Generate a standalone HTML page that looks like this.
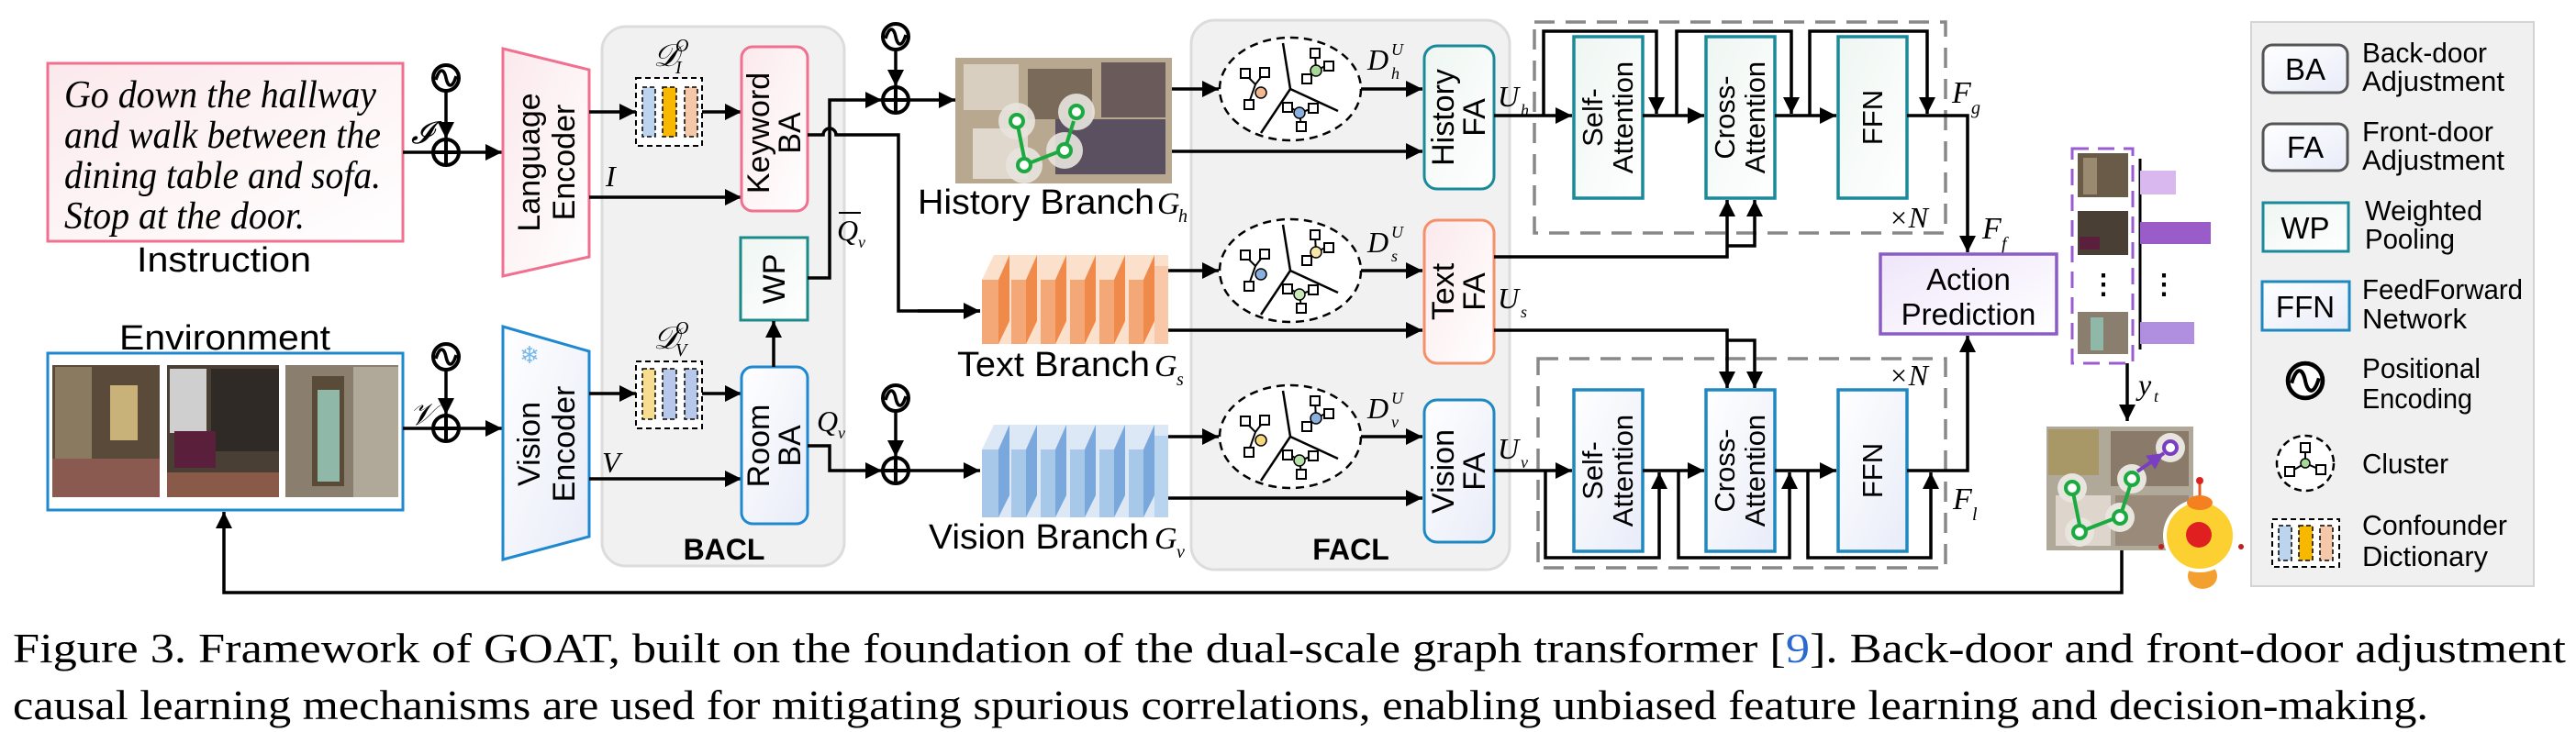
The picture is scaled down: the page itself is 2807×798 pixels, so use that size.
<!DOCTYPE html>
<html><head><meta charset="utf-8"><style>
html,body{margin:0;padding:0;background:#fff}
svg{display:block}
text{font-family:"Liberation Sans",sans-serif}
.s{font-family:"Liberation Serif",serif}
</style></head><body>
<svg width="2807" height="798" viewBox="0 0 2807 798" xmlns="http://www.w3.org/2000/svg">
<defs>
<marker id="a" markerUnits="userSpaceOnUse" markerWidth="20" markerHeight="18" refX="18" refY="9" orient="auto"><path d="M0,0 L18,9 L0,18 Z" fill="#000"/></marker>
<marker id="ap" markerUnits="userSpaceOnUse" markerWidth="20" markerHeight="18" refX="18" refY="9" orient="auto"><path d="M0,0 L18,9 L0,18 Z" fill="#7a3fc0"/></marker>
<linearGradient id="gp" x1="0" y1="0" x2="1" y2="1"><stop offset="0" stop-color="#fbe9ec"/><stop offset="1" stop-color="#fff"/></linearGradient>
<linearGradient id="gb" x1="0" y1="0" x2="1" y2="1"><stop offset="0" stop-color="#fff"/><stop offset="1" stop-color="#e8ecf8"/></linearGradient>
<linearGradient id="gt" x1="0" y1="0" x2="1" y2="1"><stop offset="0" stop-color="#eef6f2"/><stop offset="1" stop-color="#fff"/></linearGradient>
<linearGradient id="gv" x1="0" y1="0" x2="1" y2="1"><stop offset="0" stop-color="#efe6fa"/><stop offset="1" stop-color="#fff"/></linearGradient>
<g id="pe"><circle cx="0" cy="0" r="14" fill="#fff" stroke="#000" stroke-width="4"/><path d="M-11,2 C-7,-12 -2,-10 0,0 C2,10 7,12 11,-2" fill="none" stroke="#000" stroke-width="3.5"/></g>
<g id="op"><circle cx="0" cy="0" r="14" fill="#fff" stroke="#000" stroke-width="4"/><path d="M-14,0 H14 M0,-14 V14" stroke="#000" stroke-width="4"/></g>
<g id="cl">
<ellipse cx="0" cy="0" rx="77" ry="56" fill="#fff" stroke="#000" stroke-width="2.5" stroke-dasharray="9 6"/>
<path d="M0,0 L-8,-50 M0,0 L52,24 M0,0 L-32,48" stroke="#000" stroke-width="2.5"/>
<path d="M-48,-15 L-38,-5 L-28,-18 M-38,-5 L-45,15" stroke="#000" stroke-width="2" fill="none"/>
<rect x="-54" y="-22" width="10" height="10" fill="#fff" stroke="#000" stroke-width="2"/>
<rect x="-33" y="-23" width="10" height="10" fill="#fff" stroke="#000" stroke-width="2"/>
<rect x="-50" y="12" width="10" height="10" fill="#fff" stroke="#000" stroke-width="2"/>
<path d="M27,-38 L28,-20 L40,-26 M28,-20 L18,-12" stroke="#000" stroke-width="2" fill="none"/>
<rect x="22" y="-44" width="10" height="10" fill="#fff" stroke="#000" stroke-width="2"/>
<rect x="37" y="-30" width="10" height="10" fill="#fff" stroke="#000" stroke-width="2"/>
<rect x="13" y="-16" width="10" height="10" fill="#fff" stroke="#000" stroke-width="2"/>
<path d="M0,20 L10,26 L22,22 M10,26 L12,40" stroke="#000" stroke-width="2" fill="none"/>
<rect x="-8" y="15" width="10" height="10" fill="#fff" stroke="#000" stroke-width="2"/>
<rect x="20" y="16" width="10" height="10" fill="#fff" stroke="#000" stroke-width="2"/>
<rect x="7" y="36" width="10" height="10" fill="#fff" stroke="#000" stroke-width="2"/>
</g>
</defs>

<!-- Instruction -->
<rect x="52" y="69" width="387" height="194" fill="url(#gp)" stroke="#f07090" stroke-width="3"/>
<g class="s" font-style="italic" font-size="42" fill="#000">
<text class="s" x="70" y="117" textLength="340" lengthAdjust="spacingAndGlyphs">Go down the hallway</text>
<text class="s" x="70" y="161" textLength="345" lengthAdjust="spacingAndGlyphs">and walk between the</text>
<text class="s" x="70" y="205" textLength="345" lengthAdjust="spacingAndGlyphs">dining table and sofa.</text>
<text class="s" x="70" y="249" textLength="262" lengthAdjust="spacingAndGlyphs">Stop at the door.</text>
</g>
<text x="244" y="296" font-size="38" text-anchor="middle" textLength="190" lengthAdjust="spacingAndGlyphs">Instruction</text>

<!-- Environment -->
<text x="245" y="381" font-size="38" text-anchor="middle" textLength="230" lengthAdjust="spacingAndGlyphs">Environment</text>
<rect x="52" y="385" width="387" height="171" fill="#fff" stroke="#1e88d0" stroke-width="3"/>
<rect x="57" y="398" width="117" height="144" fill="#5a4a3a"/>
<rect x="60" y="400" width="40" height="130" fill="#8a7a60"/><rect x="120" y="420" width="30" height="60" fill="#c9b27a"/><rect x="57" y="500" width="117" height="42" fill="#8a5a50"/>
<rect x="182" y="398" width="122" height="144" fill="#4a3f35"/>
<rect x="185" y="402" width="40" height="70" fill="#cfcfcf"/><rect x="230" y="402" width="74" height="90" fill="#2f2a26"/><rect x="190" y="470" width="45" height="40" fill="#5a1f3a"/><rect x="182" y="515" width="122" height="27" fill="#8a5a48"/>
<rect x="311" y="398" width="123" height="144" fill="#8a7f6e"/>
<rect x="340" y="410" width="35" height="120" fill="#5a4a38"/><rect x="346" y="425" width="24" height="100" fill="#8fb8a8"/><rect x="385" y="400" width="49" height="142" fill="#b0a898"/>

<!-- PE + plus, language -->
<use href="#pe" x="486" y="85"/>
<path d="M486,99 V151" stroke="#000" stroke-width="3.5" marker-end="url(#a)"/>
<use href="#op" x="486" y="166"/>
<path d="M439,166 H547" stroke="#000" stroke-width="3.5" marker-end="url(#a)"/>
<text class="s" x="448" y="156" font-size="34" font-style="italic">𝓘</text>

<use href="#pe" x="486" y="389"/>
<path d="M486,403 V452" stroke="#000" stroke-width="3.5" marker-end="url(#a)"/>
<use href="#op" x="486" y="467"/>
<path d="M439,467 H547" stroke="#000" stroke-width="3.5" marker-end="url(#a)"/>
<text class="s" x="446" y="463" font-size="34" font-style="italic">𝒱</text>

<!-- BACL panel -->
<rect x="656" y="29" width="264" height="588" rx="26" fill="#f1f1f1" stroke="#dcdcdc" stroke-width="3"/>
<text x="789" y="610" font-size="32" font-weight="bold" text-anchor="middle">BACL</text>

<!-- Encoders -->
<polygon points="548,53 642,76 642,280 548,301" fill="url(#gp)" stroke="#f07090" stroke-width="3"/>
<g transform="translate(596,177) rotate(-90)"><text x="0" y="-8" font-size="34" text-anchor="middle">Language</text><text x="0" y="30" font-size="34" text-anchor="middle">Encoder</text></g>
<polygon points="548,356 642,383 642,585 548,610" fill="url(#gb)" stroke="#1e88d0" stroke-width="3"/>
<text x="577" y="396" font-size="26" fill="#7ab8e8" text-anchor="middle">❄</text>
<g transform="translate(596,484) rotate(-90)"><text x="0" y="-8" font-size="34" text-anchor="middle">Vision</text><text x="0" y="30" font-size="34" text-anchor="middle">Encoder</text></g>

<!-- Dictionaries -->
<rect x="693" y="85" width="72" height="74" fill="#fff" stroke="#000" stroke-width="2" stroke-dasharray="6 4"/>
<rect x="700" y="95" width="14" height="54" fill="#bcd4ee" stroke="#000" stroke-width="1.5" stroke-dasharray="5 3"/>
<rect x="722" y="95" width="15" height="54" fill="#f8b800" stroke="#000" stroke-width="1.5" stroke-dasharray="5 3"/>
<rect x="746" y="95" width="14" height="54" fill="#f4c8a8" stroke="#000" stroke-width="1.5" stroke-dasharray="5 3"/>
<text class="s" x="712" y="72" font-size="34" font-style="italic">𝒟</text><text class="s" x="736" y="56" font-size="20" font-style="italic">O</text><text class="s" x="736" y="80" font-size="20" font-style="italic">I</text>
<rect x="693" y="394" width="72" height="73" fill="#fff" stroke="#000" stroke-width="2" stroke-dasharray="6 4"/>
<rect x="700" y="402" width="14" height="55" fill="#f8dc90" stroke="#000" stroke-width="1.5" stroke-dasharray="5 3"/>
<rect x="722" y="402" width="15" height="55" fill="#b8c8ea" stroke="#000" stroke-width="1.5" stroke-dasharray="5 3"/>
<rect x="746" y="402" width="14" height="55" fill="#b8c8ea" stroke="#000" stroke-width="1.5" stroke-dasharray="5 3"/>
<text class="s" x="712" y="380" font-size="34" font-style="italic">𝒟</text><text class="s" x="736" y="364" font-size="20" font-style="italic">O</text><text class="s" x="736" y="388" font-size="20" font-style="italic">V</text>

<path d="M642,122 H693" stroke="#000" stroke-width="3.5" marker-end="url(#a)"/>
<path d="M765,122 H808" stroke="#000" stroke-width="3.5" marker-end="url(#a)"/>
<path d="M642,215 H808" stroke="#000" stroke-width="3.5" marker-end="url(#a)"/>
<text class="s" x="660" y="203" font-size="32" font-style="italic">I</text>
<path d="M642,429 H693" stroke="#000" stroke-width="3.5" marker-end="url(#a)"/>
<path d="M765,429 H808" stroke="#000" stroke-width="3.5" marker-end="url(#a)"/>
<path d="M642,522 H808" stroke="#000" stroke-width="3.5" marker-end="url(#a)"/>
<text class="s" x="656" y="515" font-size="32" font-style="italic">V</text>

<!-- BA boxes -->
<rect x="808" y="51" width="72" height="179" rx="12" fill="url(#gp)" stroke="#f07090" stroke-width="3"/>
<g transform="translate(844,145) rotate(-90)"><text x="0" y="-6" font-size="34" text-anchor="middle">Keyword</text><text x="0" y="28" font-size="34" text-anchor="middle">BA</text></g>
<rect x="807" y="259" width="73" height="90" fill="url(#gt)" stroke="#1a8a8a" stroke-width="3"/>
<g transform="translate(843,304) rotate(-90)"><text x="0" y="12" font-size="34" text-anchor="middle">WP</text></g>
<rect x="808" y="400" width="72" height="171" rx="12" fill="url(#gb)" stroke="#1e88d0" stroke-width="3"/>
<g transform="translate(844,486) rotate(-90)"><text x="0" y="-6" font-size="34" text-anchor="middle">Room</text><text x="0" y="28" font-size="34" text-anchor="middle">BA</text></g>
<path d="M843,400 V350" stroke="#000" stroke-width="3.5" marker-end="url(#a)"/>

<!-- BA outputs -->
<path d="M880,147 H897 A7,7 0 0 1 911,147 H979 V339 H1068" fill="none" stroke="#000" stroke-width="3.5" marker-end="url(#a)"/>
<path d="M880,303 H904 V109 H961" fill="none" stroke="#000" stroke-width="3.5" marker-end="url(#a)"/>
<line x1="914" y1="232" x2="938" y2="232" stroke="#000" stroke-width="2"/>
<text class="s" x="912" y="262" font-size="32" font-style="italic">Q</text><text class="s" x="935" y="270" font-size="18" font-style="italic">v</text>
<use href="#pe" x="976" y="40"/>
<path d="M976,54 V94" stroke="#000" stroke-width="3.5" marker-end="url(#a)"/>
<use href="#op" x="976" y="109"/>
<path d="M990,109 H1041" stroke="#000" stroke-width="3.5" marker-end="url(#a)"/>
<path d="M880,486 H904 V513 H961" fill="none" stroke="#000" stroke-width="3.5" marker-end="url(#a)"/>
<text class="s" x="890" y="470" font-size="32" font-style="italic">Q</text><text class="s" x="913" y="478" font-size="18" font-style="italic">v</text>
<use href="#pe" x="976" y="434"/>
<path d="M976,448 V498" stroke="#000" stroke-width="3.5" marker-end="url(#a)"/>
<use href="#op" x="976" y="513"/>
<path d="M990,513 H1068" stroke="#000" stroke-width="3.5" marker-end="url(#a)"/>

<!-- FACL panel -->
<rect x="1298" y="22" width="347" height="599" rx="26" fill="#f1f1f1" stroke="#dcdcdc" stroke-width="3"/>
<text x="1472" y="610" font-size="32" font-weight="bold" text-anchor="middle">FACL</text>

<!-- History image -->
<rect x="1041" y="63" width="236" height="137" fill="#b8a890"/>
<rect x="1050" y="70" width="60" height="50" fill="#d8cfc0"/><rect x="1120" y="75" width="70" height="55" fill="#7a6a5a"/><rect x="1200" y="68" width="70" height="60" fill="#6a5a5a"/><rect x="1150" y="130" width="120" height="60" fill="#5a5060"/><rect x="1060" y="140" width="60" height="55" fill="#e0d8cc"/>
<circle cx="1108" cy="132" r="20" fill="#e8e4de" opacity=".9"/><circle cx="1116" cy="180" r="20" fill="#e8e4de" opacity=".9"/><circle cx="1160" cy="164" r="20" fill="#e8e4de" opacity=".9"/><circle cx="1173" cy="122" r="20" fill="#e8e4de" opacity=".9"/>
<g stroke="#1aaa40" stroke-width="4" fill="none"><path d="M1108,132 L1116,172"/><path d="M1116,180 L1152,166"/><path d="M1160,164 L1170,132"/>
<circle cx="1108" cy="132" r="7" fill="#fff"/><circle cx="1116" cy="180" r="7" fill="#fff"/><circle cx="1160" cy="164" r="7" fill="#fff"/><circle cx="1173" cy="122" r="7" fill="#fff"/></g>
<text x="1000" y="233" font-size="38" textLength="258" lengthAdjust="spacingAndGlyphs">History Branch</text>
<text class="s" x="1261" y="233" font-size="34" font-style="italic">G</text><text class="s" x="1284" y="242" font-size="20" font-style="italic">h</text>

<!-- Text branch -->
<g>
<polygon points="1070,305 1083,278 1273,278 1273,375 1070,375" fill="#fbe0cc"/>
<g fill="#f4a878"><rect x="1070" y="305" width="18" height="70"/><rect x="1102" y="305" width="16" height="70"/><rect x="1134" y="305" width="16" height="70"/><rect x="1166" y="305" width="16" height="70"/><rect x="1198" y="305" width="16" height="70"/><rect x="1230" y="305" width="16" height="70"/></g>
<g fill="#f08a4a"><polygon points="1088,305 1100,278 1100,350 1088,375"/><polygon points="1118,305 1130,278 1130,350 1118,375"/><polygon points="1150,305 1162,278 1162,350 1150,375"/><polygon points="1182,305 1194,278 1194,350 1182,375"/><polygon points="1214,305 1226,278 1226,350 1214,375"/><polygon points="1246,305 1258,278 1258,350 1246,375"/></g>
<rect x="1258" y="290" width="15" height="85" fill="#f8c8a8"/>
</g>
<path d="M1000,339 H1068" stroke="#000" stroke-width="3.5"/>
<text x="1043" y="410" font-size="38" textLength="210" lengthAdjust="spacingAndGlyphs">Text Branch</text>
<text class="s" x="1258" y="410" font-size="34" font-style="italic">G</text><text class="s" x="1282" y="420" font-size="20" font-style="italic">s</text>

<!-- Vision branch -->
<g>
<polygon points="1070,490 1083,463 1273,463 1273,564 1070,564" fill="#dce8f6"/>
<g fill="#a8c8ea"><rect x="1070" y="490" width="18" height="74"/><rect x="1102" y="490" width="16" height="74"/><rect x="1134" y="490" width="16" height="74"/><rect x="1166" y="490" width="16" height="74"/><rect x="1198" y="490" width="16" height="74"/><rect x="1230" y="490" width="16" height="74"/></g>
<g fill="#7aa8dc"><polygon points="1088,490 1100,463 1100,540 1088,564"/><polygon points="1118,490 1130,463 1130,540 1118,564"/><polygon points="1150,490 1162,463 1162,540 1150,564"/><polygon points="1182,490 1194,463 1194,540 1182,564"/><polygon points="1214,490 1226,463 1226,540 1214,564"/><polygon points="1246,490 1258,463 1258,540 1246,564"/></g>
<rect x="1258" y="475" width="15" height="89" fill="#b8d4ee"/>
</g>
<text x="1012" y="598" font-size="38" textLength="240" lengthAdjust="spacingAndGlyphs">Vision Branch</text>
<text class="s" x="1258" y="598" font-size="34" font-style="italic">G</text><text class="s" x="1282" y="608" font-size="20" font-style="italic">v</text>

<!-- Clusters -->
<use href="#cl" x="1406" y="97"/>
<circle cx="1374" cy="101" r="6" fill="#f4b890" stroke="#000" stroke-width="1.5"/><circle cx="1434" cy="77" r="6" fill="#a8d898" stroke="#000" stroke-width="1.5"/><circle cx="1416" cy="123" r="6" fill="#8ab0e0" stroke="#000" stroke-width="1.5"/>
<use href="#cl" x="1406" y="295"/>
<circle cx="1374" cy="299" r="6" fill="#8ab0e0" stroke="#000" stroke-width="1.5"/><circle cx="1434" cy="275" r="6" fill="#f8e8a8" stroke="#000" stroke-width="1.5"/><circle cx="1416" cy="321" r="6" fill="#c8e8b8" stroke="#000" stroke-width="1.5"/>
<use href="#cl" x="1406" y="476"/>
<circle cx="1374" cy="480" r="6" fill="#f8d878" stroke="#000" stroke-width="1.5"/><circle cx="1434" cy="456" r="6" fill="#8ab0e0" stroke="#000" stroke-width="1.5"/><circle cx="1416" cy="502" r="6" fill="#b8e0a8" stroke="#000" stroke-width="1.5"/>

<g class="s" font-style="italic">
<text class="s" x="1490" y="76" font-size="32">D</text><text class="s" x="1516" y="60" font-size="18">U</text><text class="s" x="1516" y="86" font-size="18">h</text>
<text class="s" x="1490" y="275" font-size="32">D</text><text class="s" x="1516" y="259" font-size="18">U</text><text class="s" x="1516" y="285" font-size="18">s</text>
<text class="s" x="1490" y="456" font-size="32">D</text><text class="s" x="1516" y="440" font-size="18">U</text><text class="s" x="1516" y="466" font-size="18">v</text>
<text class="s" x="1632" y="116" font-size="32">U</text><text class="s" x="1657" y="126" font-size="18">h</text>
<text class="s" x="1632" y="336" font-size="32">U</text><text class="s" x="1657" y="346" font-size="18">s</text>
<text class="s" x="1632" y="500" font-size="32">U</text><text class="s" x="1657" y="510" font-size="18">v</text>
</g>

<g stroke="#000" stroke-width="3.5" fill="none">
<path d="M1277,97 H1328" marker-end="url(#a)"/><path d="M1483,97 H1550" marker-end="url(#a)"/><path d="M1277,165 H1550" marker-end="url(#a)"/>
<path d="M1273,295 H1328" marker-end="url(#a)"/><path d="M1483,295 H1550" marker-end="url(#a)"/><path d="M1273,360 H1550" marker-end="url(#a)"/>
<path d="M1273,476 H1328" marker-end="url(#a)"/><path d="M1483,476 H1550" marker-end="url(#a)"/><path d="M1273,543 H1550" marker-end="url(#a)"/>
</g>

<!-- FA boxes -->
<rect x="1552" y="50" width="76" height="156" rx="14" fill="url(#gt)" stroke="#1a8a9a" stroke-width="3"/>
<g transform="translate(1590,128) rotate(-90)"><text x="0" y="-6" font-size="34" text-anchor="middle">History</text><text x="0" y="28" font-size="34" text-anchor="middle">FA</text></g>
<rect x="1552" y="240" width="76" height="156" rx="14" fill="url(#gp)" stroke="#f4906a" stroke-width="3"/>
<g transform="translate(1590,318) rotate(-90)"><text x="0" y="-6" font-size="34" text-anchor="middle">Text</text><text x="0" y="28" font-size="34" text-anchor="middle">FA</text></g>
<rect x="1552" y="436" width="76" height="155" rx="14" fill="url(#gb)" stroke="#1e88c0" stroke-width="3"/>
<g transform="translate(1590,514) rotate(-90)"><text x="0" y="-6" font-size="34" text-anchor="middle">Vision</text><text x="0" y="28" font-size="34" text-anchor="middle">FA</text></g>

<!-- Transformer blocks -->
<rect x="1672" y="24" width="448" height="230" fill="none" stroke="#888" stroke-width="3.5" stroke-dasharray="22 12"/>
<rect x="1676" y="391" width="444" height="228" fill="none" stroke="#888" stroke-width="3.5" stroke-dasharray="22 12"/>
<g stroke-width="3.5">
<rect x="1715" y="40" width="75" height="176" fill="url(#gt)" stroke="#1a8a9a"/>
<rect x="1859" y="40" width="75" height="176" fill="url(#gt)" stroke="#1a8a9a"/>
<rect x="2003" y="40" width="75" height="176" fill="url(#gt)" stroke="#1a8a9a"/>
<rect x="1715" y="425" width="75" height="176" fill="url(#gb)" stroke="#1e88c0"/>
<rect x="1859" y="425" width="75" height="176" fill="url(#gb)" stroke="#1e88c0"/>
<rect x="2003" y="425" width="75" height="176" fill="url(#gb)" stroke="#1e88c0"/>
</g>
<g font-size="31" text-anchor="middle">
<g transform="translate(1752,128) rotate(-90)"><text x="0" y="-6">Self-</text><text x="0" y="27">Attention</text></g>
<g transform="translate(1896,128) rotate(-90)"><text x="0" y="-6">Cross-</text><text x="0" y="27">Attention</text></g>
<g transform="translate(2040,128) rotate(-90)"><text x="0" y="11">FFN</text></g>
<g transform="translate(1752,513) rotate(-90)"><text x="0" y="-6">Self-</text><text x="0" y="27">Attention</text></g>
<g transform="translate(1896,513) rotate(-90)"><text x="0" y="-6">Cross-</text><text x="0" y="27">Attention</text></g>
<g transform="translate(2040,513) rotate(-90)"><text x="0" y="11">FFN</text></g>
</g>
<g stroke="#000" stroke-width="3.5" fill="none">
<path d="M1628,126 H1713" marker-end="url(#a)"/>
<path d="M1682,126 V34 H1805 V124" marker-end="url(#a)"/>
<path d="M1790,126 H1857" marker-end="url(#a)"/>
<path d="M1827,126 V34 H1952 V124" marker-end="url(#a)"/>
<path d="M1934,126 H2001" marker-end="url(#a)"/>
<path d="M1972,126 V34 H2100 V124" marker-end="url(#a)"/>
<path d="M2078,126 H2144 V275" marker-end="url(#a)"/>
<path d="M1628,280 H1882 V218" marker-end="url(#a)"/>
<path d="M1882,268 H1912 V218" marker-end="url(#a)"/>
<path d="M1628,360 H1882 V423" marker-end="url(#a)"/>
<path d="M1882,371 H1912 V423" marker-end="url(#a)"/>
<path d="M1628,513 H1713" marker-end="url(#a)"/>
<path d="M1684,513 V608 H1808 V515" marker-end="url(#a)"/>
<path d="M1790,513 H1857" marker-end="url(#a)"/>
<path d="M1829,513 V608 H1950 V515" marker-end="url(#a)"/>
<path d="M1934,513 H2001" marker-end="url(#a)"/>
<path d="M1970,513 V608 H2104 V515" marker-end="url(#a)"/>
<path d="M2078,513 H2144 V366" marker-end="url(#a)"/>
<path d="M2318,396 V459" marker-end="url(#a)"/>
<path d="M2312,600 V646 H244 V558" marker-end="url(#a)"/>
</g>
<g class="s" font-style="italic">
<text class="s" x="2127" y="112" font-size="34">F</text><text class="s" x="2148" y="124" font-size="20">g</text>
<text class="s" x="2160" y="260" font-size="34">F</text><text class="s" x="2181" y="272" font-size="20">f</text>
<text class="s" x="2128" y="555" font-size="34">F</text><text class="s" x="2149" y="567" font-size="20">l</text>
<text class="s" x="2058" y="248" font-size="32">×N</text>
<text class="s" x="2058" y="420" font-size="32">×N</text>
<text class="s" x="2330" y="430" font-size="32">y</text><text class="s" x="2347" y="438" font-size="18">t</text>
</g>

<!-- Action prediction -->
<rect x="2049" y="277" width="192" height="87" fill="url(#gv)" stroke="#8a5cc8" stroke-width="3.5"/>
<text x="2145" y="316" font-size="33" text-anchor="middle">Action</text>
<text x="2145" y="354" font-size="33" text-anchor="middle">Prediction</text>

<!-- candidates -->
<rect x="2258" y="162" width="66" height="234" fill="#fff" stroke="#9a5cd0" stroke-width="3" stroke-dasharray="18 10"/>
<rect x="2264" y="167" width="55" height="48" fill="#6a5a48"/><rect x="2270" y="172" width="15" height="40" fill="#9a8a70"/>
<rect x="2264" y="230" width="55" height="48" fill="#4a3f35"/><rect x="2266" y="258" width="22" height="14" fill="#5a1f3a"/>
<rect x="2264" y="340" width="55" height="46" fill="#8a7f6e"/><rect x="2278" y="346" width="14" height="36" fill="#8fb8a8"/>
<text x="2292" y="320" font-size="30" font-weight="bold" text-anchor="middle">⋮</text>
<line x1="2332" y1="173" x2="2332" y2="381" stroke="#000" stroke-width="3"/>
<rect x="2332" y="186" width="39" height="26" fill="#d8b8ee"/>
<rect x="2332" y="242" width="77" height="24" fill="#9a5cc8"/>
<rect x="2332" y="351" width="59" height="24" fill="#b08ee0"/>
<text x="2358" y="320" font-size="30" font-weight="bold" text-anchor="middle">⋮</text>

<!-- map + robot -->
<rect x="2230" y="465" width="160" height="135" fill="#b0a898"/>
<rect x="2232" y="468" width="55" height="50" fill="#a89868"/><rect x="2300" y="470" width="85" height="60" fill="#8a7a6a"/><rect x="2240" y="540" width="60" height="55" fill="#ded6cc"/><rect x="2305" y="540" width="80" height="55" fill="#9a8a7a"/>
<circle cx="2258" cy="532" r="16" fill="#e8e4de"/><circle cx="2266" cy="580" r="16" fill="#e8e4de"/><circle cx="2310" cy="564" r="16" fill="#e8e4de"/><circle cx="2323" cy="522" r="16" fill="#e8e4de"/><circle cx="2365" cy="488" r="16" fill="#e8e4de"/>
<g stroke="#1aaa40" stroke-width="4" fill="none"><path d="M2258,532 L2266,572"/><path d="M2266,580 L2302,566"/><path d="M2310,564 L2321,530"/>
<circle cx="2258" cy="532" r="7" fill="#fff"/><circle cx="2266" cy="580" r="7" fill="#fff"/><circle cx="2310" cy="564" r="7" fill="#fff"/><circle cx="2323" cy="522" r="7" fill="#fff"/></g>
<path d="M2329,514 L2358,494" stroke="#7a3fc0" stroke-width="4" marker-end="url(#ap)"/>
<circle cx="2365" cy="488" r="7" fill="#fff" stroke="#7a3fc0" stroke-width="4"/>
<ellipse cx="2400" cy="628" rx="16" ry="14" fill="#f4a030"/>
<circle cx="2397" cy="584" r="38" fill="#fcd030" stroke="#fff" stroke-width="4"/>
<circle cx="2396" cy="583" r="14" fill="#e02020"/>
<ellipse cx="2397" cy="548" rx="14" ry="8" fill="#f48020"/>
<line x1="2397" y1="540" x2="2397" y2="526" stroke="#e06020" stroke-width="3"/><circle cx="2397" cy="524" r="4" fill="#e02020"/>
<circle cx="2355" cy="596" r="3" fill="#c02020"/><circle cx="2442" cy="596" r="3" fill="#c02020"/>

<!-- Legend -->
<rect x="2453" y="24" width="308" height="615" fill="#f0f0f0" stroke="#d4d4d4" stroke-width="2"/>
<g stroke-width="3">
<rect x="2466" y="49" width="92" height="52" rx="10" fill="url(#gb)" stroke="#555"/>
<rect x="2466" y="135" width="92" height="51" rx="10" fill="url(#gb)" stroke="#555"/>
<rect x="2466" y="221" width="93" height="53" fill="url(#gt)" stroke="#1a8a9a"/>
<rect x="2465" y="307" width="95" height="53" fill="url(#gb)" stroke="#1e88c0"/>
</g>
<g font-size="33" text-anchor="middle">
<text x="2512" y="87">BA</text><text x="2512" y="172">FA</text><text x="2512" y="260">WP</text><text x="2512" y="346">FFN</text>
</g>
<g font-size="31">
<text x="2574" y="68" textLength="136" lengthAdjust="spacingAndGlyphs">Back-door</text>
<text x="2574" y="99" textLength="155" lengthAdjust="spacingAndGlyphs">Adjustment</text>
<text x="2574" y="154" textLength="143" lengthAdjust="spacingAndGlyphs">Front-door</text>
<text x="2574" y="185" textLength="155" lengthAdjust="spacingAndGlyphs">Adjustment</text>
<text x="2577" y="240" textLength="128" lengthAdjust="spacingAndGlyphs">Weighted</text>
<text x="2577" y="271" textLength="98" lengthAdjust="spacingAndGlyphs">Pooling</text>
<text x="2574" y="326" textLength="175" lengthAdjust="spacingAndGlyphs">FeedForward</text>
<text x="2574" y="358" textLength="114" lengthAdjust="spacingAndGlyphs">Network</text>
<text x="2574" y="412" textLength="129" lengthAdjust="spacingAndGlyphs">Positional</text>
<text x="2574" y="445" textLength="120" lengthAdjust="spacingAndGlyphs">Encoding</text>
<text x="2574" y="516" textLength="94" lengthAdjust="spacingAndGlyphs">Cluster</text>
<text x="2574" y="583" textLength="158" lengthAdjust="spacingAndGlyphs">Confounder</text>
<text x="2574" y="617" textLength="137" lengthAdjust="spacingAndGlyphs">Dictionary</text>
</g>
<g transform="translate(2512,415) scale(1.35)"><circle r="14" fill="#fff" stroke="#000" stroke-width="3.5"/><path d="M-11,2 C-7,-12 -2,-10 0,0 C2,10 7,12 11,-2" fill="none" stroke="#000" stroke-width="3"/></g>
<g transform="translate(2512,505)">
<ellipse rx="31" ry="30" fill="#fff" stroke="#000" stroke-width="2.5" stroke-dasharray="8 5"/>
<path d="M0,-12 V0 L-14,8 M0,0 L14,6" stroke="#000" stroke-width="2" fill="none"/>
<rect x="-5" y="-22" width="10" height="10" fill="#fff" stroke="#000" stroke-width="2"/>
<rect x="-22" y="4" width="10" height="10" fill="#fff" stroke="#000" stroke-width="2"/>
<rect x="12" y="2" width="10" height="10" fill="#fff" stroke="#000" stroke-width="2"/>
<circle r="5" fill="#a8d898" stroke="#000" stroke-width="1.5"/>
</g>
<rect x="2476" y="566" width="73" height="52" fill="#fff" stroke="#000" stroke-width="2" stroke-dasharray="6 4"/>
<rect x="2483" y="573" width="14" height="38" fill="#bcd4ee" stroke="#000" stroke-width="1.5" stroke-dasharray="5 3"/>
<rect x="2505" y="573" width="15" height="38" fill="#f8b800" stroke="#000" stroke-width="1.5" stroke-dasharray="5 3"/>
<rect x="2528" y="573" width="14" height="38" fill="#f4c8a8" stroke="#000" stroke-width="1.5" stroke-dasharray="5 3"/>

<!-- caption -->
<g font-size="46">
<text class="s" x="14" y="722" textLength="2782" lengthAdjust="spacingAndGlyphs">Figure 3.  Framework of GOAT, built on the foundation of the dual-scale graph transformer [<tspan fill="#2a6ad0">9</tspan>].  Back-door and front-door adjustment</text>
<text class="s" x="14" y="784" textLength="2632" lengthAdjust="spacingAndGlyphs">causal learning mechanisms are used for mitigating spurious correlations, enabling unbiased feature learning and decision-making.</text>
</g>
</svg>
</body></html>
